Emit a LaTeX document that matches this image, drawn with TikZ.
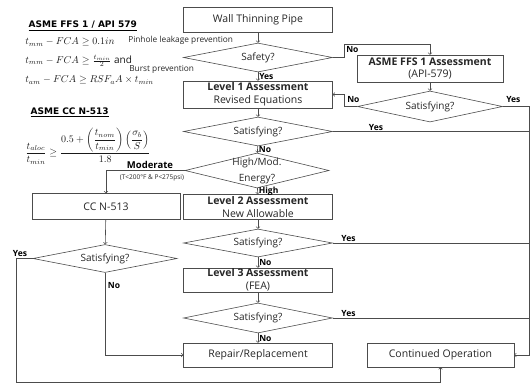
\documentclass[tikz,border=0pt]{standalone}
\usepackage{amsmath}
\usepackage{fontspec}
\setmainfont{Open Sans}
\newfontfamily\headfont{DejaVu Sans}
\usetikzlibrary{shapes.geometric}

\begin{document}
\begin{tikzpicture}
[x=1pt, y=-1pt, line width=0.6pt, color=black!70, text=black!85,
 box/.style={draw, minimum width=149pt, minimum height=25pt, inner sep=0.5pt, align=center, font=\fontsize{10.5}{12.5}\selectfont},
 dia/.style={draw, diamond, aspect=5, minimum width=149pt, minimum height=29pt, inner sep=0pt, font=\fontsize{10}{12}\selectfont},
 lbl/.style={font=\bfseries\fontsize{8.5}{10}\selectfont, inner sep=1pt, text=black},
 head/.style={anchor=west, font=\headfont\bfseries\fontsize{9}{10}\selectfont, text=black},
 eq/.style={anchor=west, inner sep=0pt, font=\fontsize{10}{12}\selectfont, text=black!90},
 note/.style={anchor=west, inner sep=0pt, font=\fontsize{8.3}{9}\selectfont}]

\useasboundingbox (0,0) rectangle (532,384);

% left column: criteria
\node[head] (hffs) at (25,26) {\underline{ASME FFS 1 / API 579}};
\node[eq] (e1) at (25,42) {$t_{mm}-FCA \geq 0.1in$};
\node[note] (pin) at (128,40) {Pinhole leakage prevention};
\node[eq] (e2) at (25,61) {$t_{mm}-FCA \geq \frac{t_{min}}{2}$ and};
\node[note] (burst) at (129,69) {Burst prevention};
\node[eq] (e3) at (25,80) {$t_{am}-FCA \geq RSF_{a}A \times t_{min}$};
\node[head] (hcc) at (27,112) {\underline{ASME CC N-513}};
\node[eq] (e4) at (25,146) {$\dfrac{t_{aloc}}{t_{min}} \geq \dfrac{0.5+\left(\dfrac{t_{nom}}{t_{min}}\right)\left(\dfrac{\sigma_b}{S}\right)}{1.8}$};

% main flow
\node[box] (wall) at (258,20) {Wall Thinning Pipe};
\node[dia] (safe) at (258,57.5) {Safety?};
\node[box, minimum height=27pt] (lv1) at (258,94.5) {\textbf{Level 1 Assessment}\\Revised Equations};
\node[dia] (sat1) at (258,131.5) {Satisfying?};
\node[dia, minimum width=144pt, minimum height=35pt, label={[align=center, font=\fontsize{10}{16}\selectfont]center:High/Mod.\\Energy?}] (ener) at (257,170.5) {};
\node[box] (lv2) at (258,207) {\textbf{Level 2 Assessment}\\New Allowable};
\node[dia, minimum height=28pt] (sat2) at (258,243) {Satisfying?};
\node[box, minimum height=24pt] (lv3) at (258,280) {\textbf{Level 3 Assessment}\\(FEA)};
\node[dia, minimum height=30pt] (sat3) at (258,318) {Satisfying?};
\node[box, minimum height=24pt] (rep) at (258,355) {Repair/Replacement};
\node[box, minimum width=147pt, minimum height=24pt] (cont) at (440.5,355) {Continued Operation};

% right branch
\node[box, minimum width=146pt, minimum height=27pt] (ffs) at (430,68.5) {\textbf{ASME FFS 1 Assessment}\\(API-579)};
\node[dia, minimum width=145pt, minimum height=31pt] (sat4) at (430,106.5) {Satisfying?};

% left branch
\node[box, minimum width=148pt, minimum height=26pt] (cc) at (106,206.5) {CC N-513};
\node[dia, minimum width=144pt, minimum height=28pt] (sat5) at (105,258.5) {Satisfying?};

\coordinate (rail) at (529,0);
\coordinate (low) at (16,382);

\draw[->] (wall) -- (safe);
\draw[->] (safe) -- node[lbl, right] {Yes} (lv1);
\draw[->] (safe.east) -- ++(11,0) |- ++(0,-13.5) -| (ffs.north);
\node[lbl, anchor=west] (nsafe) at (345,50) {No};
\draw[->] (ffs) -- (sat4);
\draw[->] (sat4.west) -- ++(-13,0) |- (lv1.east);
\node[lbl, anchor=west] (nsat4) at (346,100) {No};
\draw[->] (sat4.east) -- (sat4.east -| rail) |- (cont.east);
\node[lbl, anchor=west] (ysat4) at (505,99.5) {Yes};
\draw[->] (lv1) -- (sat1);
\draw (sat1.east) -- node[lbl, above, pos=0.22] {Yes} (sat1.east -| rail);
\draw[->] (sat1) -- node[lbl, right] {No} (ener);
\draw[->] (ener) -- node[lbl, right] {High} (lv2);
\draw[->] (ener.west) -| (cc.north);
\node[lbl, font=\bfseries\fontsize{9.5}{10}\selectfont] (mod) at (150,165) {Moderate};
\node[note, anchor=center, font=\fontsize{6.5}{8}\selectfont] (cond) at (152,177.5) {(T<200°F \& P<275psi)};
\draw[->] (lv2) -- (sat2);
\draw (sat2.east) -- node[lbl, above, pos=0.08] {Yes} (sat2.east -| rail);
\draw[->] (sat2) -- node[lbl, right] {No} (lv3);
\draw[->] (lv3) -- (sat3);
\draw (sat3.east) -- node[lbl, above, pos=0.08] {Yes} (sat3.east -| rail);
\draw[->] (sat3) -- node[lbl, right] {No} (rep);
\draw[->] (cc) -- (sat5);
\draw[->] (sat5.west) -| (low) -| (cont.south);
\node[lbl] (ysat5) at (20,253) {Yes};
\draw[->] (sat5.south) |- (rep.west);
\node[lbl] (nsat5) at (114,285) {No};

\end{tikzpicture}
\end{document}
